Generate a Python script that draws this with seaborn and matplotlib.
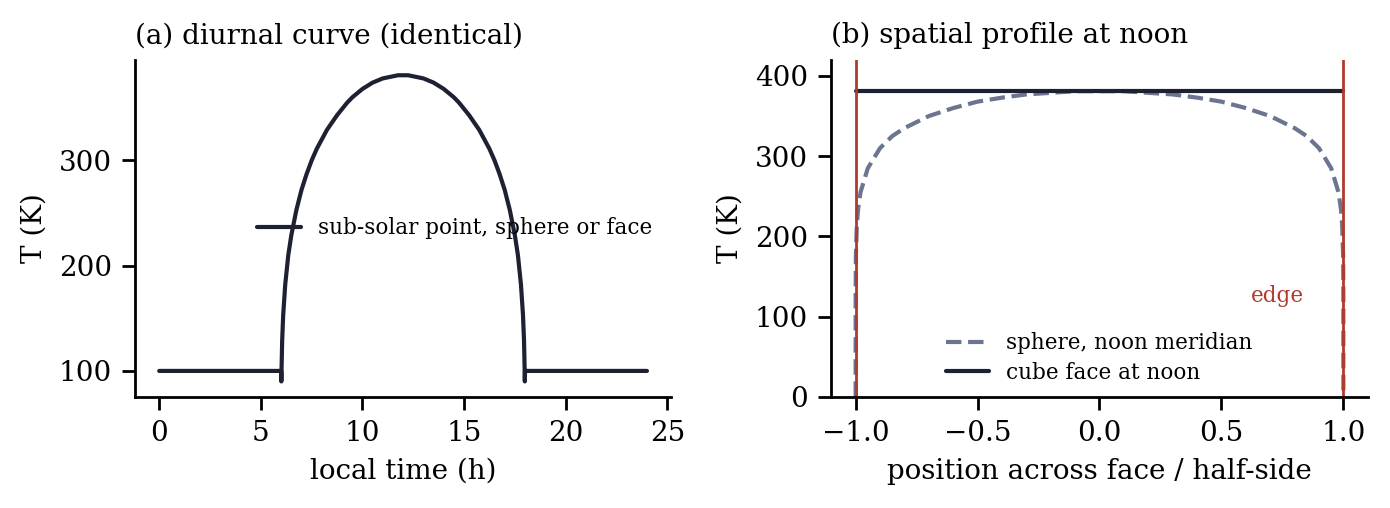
import numpy as np
import pandas as pd
import seaborn as sns
from matplotlib import pyplot as plt

# (a) diurnal curve at the sub-solar point
local_time = [0.0, 6.0, 6.01, 6.02, 6.05, 6.1, 6.2, 6.35, 6.5, 6.75, 7.0, 7.25, 7.5,
              7.75, 8.0, 8.25, 8.5, 8.75, 9.0, 9.25, 9.5, 9.75, 10.0, 10.25, 10.5,
              10.75, 11.0, 11.25, 11.5, 11.75, 12.0,
              12.25, 12.5, 12.75, 13.0, 13.25, 13.5, 13.75, 14.0, 14.25, 14.5,
              14.75, 15.0, 15.25, 15.5, 15.75, 16.0, 16.25, 16.5, 16.75, 17.0,
              17.25, 17.5, 17.65, 17.8, 17.9, 17.95, 17.98, 17.99, 18.0, 24.0]
temp_diurnal = [100, 100, 90, 102, 129, 153, 182, 210, 229, 253, 272, 287, 300,
                311, 320, 329, 336, 343, 349, 355, 360, 364, 368, 371, 374,
                376, 378, 379, 380, 381, 381,
                381, 380, 379, 378, 376, 374, 371, 368, 364, 360,
                355, 349, 343, 336, 329, 320, 311, 300, 287, 272,
                253, 229, 210, 182, 153, 129, 102, 90, 100, 100]

# (b) noon profile across the face
position = [-1.0, -0.9999, -0.999, -0.995, -0.99, -0.98, -0.95, -0.9, -0.85, -0.8,
            -0.7, -0.6, -0.5, -0.4, -0.3, -0.2, -0.1, 0.0,
            0.1, 0.2, 0.3, 0.4, 0.5, 0.6, 0.7, 0.8, 0.85, 0.9, 0.95,
            0.98, 0.99, 0.995, 0.999, 0.9999, 1.0]
temp_sphere = [0, 131, 175, 214, 234, 255, 285, 310, 325, 335,
               350, 360, 368, 373, 377, 379, 381, 381,
               381, 379, 377, 373, 368, 360, 350, 335, 325, 310, 285,
               255, 234, 214, 175, 131, 0]
cube_position = [-1.0, 1.0]
temp_cube = [381, 381]

dark = "#1e2131"
slate = "#6b7590"
red = "#b03a2e"

sns.set_theme(style="ticks", context="paper")
plt.rcParams["font.family"] = ["DejaVu Serif", "DejaVu Sans"]
plt.rcParams.update({
    "text.color": "black",
    "axes.labelcolor": "black",
    "axes.edgecolor": "black",
    "xtick.color": "black",
    "ytick.color": "black",
})

fig, (ax1, ax2) = plt.subplots(1, 2, figsize=(6.95, 2.54), dpi=200)
fig.subplots_adjust(left=0.097, right=0.984, bottom=0.219, top=0.882, wspace=0.298)

df_a = pd.DataFrame({"t": local_time, "T": temp_diurnal})
sns.lineplot(data=df_a, x="t", y="T", ax=ax1, color=dark, lw=1.5,
             estimator=None, sort=False, label="sub-solar point, sphere or face")
ax1.set_yticks([100, 200, 300])
ax1.set_xticks([0, 5, 10, 15, 20, 25])
ax1.set_xlabel("local time (h)", fontsize=10)
ax1.set_ylabel("T (K)", fontsize=10)
ax1.set_title("(a) diurnal curve (identical)", loc="left", fontsize=10)
ax1.legend(loc="center right", frameon=False, fontsize=7.75)

df_s = pd.DataFrame({"x": position, "T": temp_sphere})
df_c = pd.DataFrame({"x": cube_position, "T": temp_cube})
sns.lineplot(data=df_s, x="x", y="T", ax=ax2, color=slate, lw=1.5, linestyle="--",
             estimator=None, sort=False, label="sphere, noon meridian")
sns.lineplot(data=df_c, x="x", y="T", ax=ax2, color=dark, lw=1.5,
             estimator=None, sort=False, label="cube face at noon")
for xe in (-1, 1):
    ax2.axvline(xe, color=red, lw=1.0)
ax2.text(0.73, 126, "edge", color=red, fontsize=7.75, ha="center", va="center")
ax2.set_ylim(0, 420)
ax2.set_yticks([0, 100, 200, 300, 400])
ax2.set_xticks([-1.0, -0.5, 0.0, 0.5, 1.0])
ax2.set_xlabel("position across face / half-side", fontsize=10)
ax2.set_ylabel("T (K)", fontsize=10)
ax2.set_title("(b) spatial profile at noon", loc="left", fontsize=10)
ax2.legend(loc="lower center", frameon=False, fontsize=7.75,
           labelspacing=0.35, borderaxespad=0.2)

for ax in (ax1, ax2):
    ax.tick_params(labelsize=10)
sns.despine(fig)

fig.savefig("out.png", dpi=200)
